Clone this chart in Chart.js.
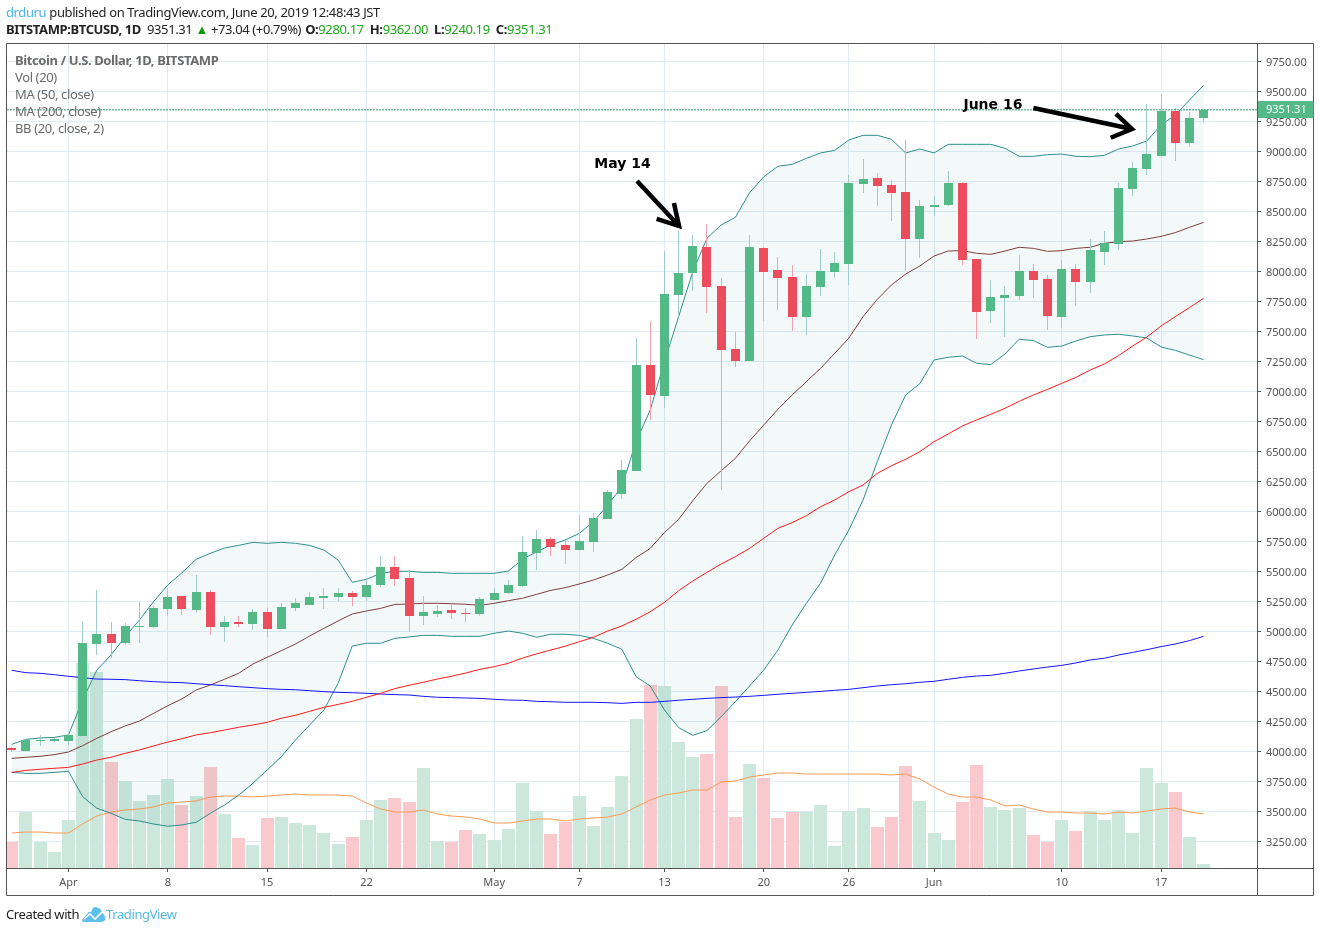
<!DOCTYPE html>
<html>
<head>
<meta charset="utf-8">
<title>BTCUSD</title>
<script src="https://cdn.jsdelivr.net/npm/chart.js@4"></script>
<style>
html, body { margin: 0; padding: 0; background: #fff; }
#wrap { position: relative; width: 1320px; height: 932px; overflow: hidden; font-family: "Noto Sans", sans-serif; }
#myChart { position: absolute; left: 0; top: 0; }
.txt { position: absolute; white-space: nowrap; font-size: 13px; line-height: 16px; letter-spacing: -0.38px; }
.up { color: #1fa51f; }
.hd { color: #222; }
.gap { margin-left: 3px; }
.pane { color: #6b6b6b; left: 15px; }
</style>
</head>
<body>
<div id="wrap">
	<canvas id="myChart" width="1320" height="932"></canvas>
	<div class="txt hd" style="left:6px;top:4px"><span style="color:#4db2e6">drduru</span> published on TradingView.com, June 20, 2019 12:48:43 JST</div>
	<div class="txt hd" style="left:6px;top:21px"><b>BITSTAMP:BTCUSD, 1D</b>&nbsp; 9351.31 <span style="color:#0a9a0a">&#9650;</span> +73.04 (+0.79%) <b class="gap" style="margin-left:1px">O:</b><span class="up">9280.17</span> <b class="gap">H:</b><span class="up">9362.00</span> <b class="gap">L:</b><span class="up">9240.19</span> <b class="gap">C:</b><span class="up">9351.31</span></div>
	<div class="txt pane" style="top:52px"><b>Bitcoin / U.S. Dollar, 1D, BITSTAMP</b></div>
	<div class="txt pane" style="top:69px">Vol (20)</div>
	<div class="txt pane" style="top:86px">MA (50, close)</div>
	<div class="txt pane" style="top:103px">MA (200, close)</div>
	<div class="txt pane" style="top:120px">BB (20, close, 2)</div>
	<div class="txt" style="left:6px;top:906px;color:#222">Created with</div>
	<svg style="position:absolute;left:82px;top:906px" width="24" height="16" viewBox="0 0 24 16">
		<path d="M0 14 L5 8 Q7 5 9 6 L11 2 Q13 0 16 2 Q20 3 20 7 Q24 9 23 14 Q22 16 19 16 L3 16 Q0 16 0 14 Z" fill="#5cc0ea"/>
		<path d="M2 13 L8 8 L13 13 L20 6" fill="none" stroke="#fff" stroke-width="1.6"/>
	</svg>
	<div class="txt" style="left:106px;top:906px;color:#55b9e6">TradingView</div>
</div>
<script>
// x is the number of days since Mar 28 2019, tick positions below
var xTicks = [4, 11, 18, 25, 34, 40, 46, 53, 59, 65, 74, 81];
var xTickLabels = ["Apr", "8", "15", "22", "May", "7", "13", "20", "26", "Jun", "10", "17"];
var priceTicks = [3250, 3500, 3750, 4000, 4250, 4500, 4750, 5000, 5250, 5500, 5750, 6000, 6250, 6500, 6750,
	7000, 7250, 7500, 7750, 8000, 8250, 8500, 8750, 9000, 9250, 9500, 9750];

var opens = [4033,4008,4092,4092,4092,4133,4900,4983,4908,5042,
	5042,5192,5300,5183,5333,5042,5083,5067,5167,5025,
	5200,5225,5283,5292,5325,5292,5392,5542,5450,5133,
	5150,5183,5158,5150,5267,5325,5383,5658,5775,5725,
	5683,5750,5942,6150,6342,7225,6967,7808,7992,8208,
	7883,7358,7258,8200,8017,7958,7625,7875,8000,8067,
	8733,8783,8725,8667,8275,8542,8558,8742,8108,7675,
	7783,7800,8008,7942,7625,8025,7917,8167,8233,8692,
	8858,8967,9342,9075,9280.17];
var highs = [4044,4108,4142,4117,4161,5092,5350,5083,5075,5250,
	5220,5358,5300,5475,5350,5133,5133,5192,5200,5242,
	5283,5333,5367,5367,5340,5450,5633,5633,5517,5300,
	5225,5233,5200,5292,5367,5433,5800,5850,5792,5767,
	5975,5992,6183,6433,7450,7592,8175,8342,8308,8400,
	7950,7500,8308,8208,8125,8058,7983,8192,8167,8808,
	8942,8825,8767,9100,8600,8633,8842,8750,8108,7933,
	7883,8142,8067,7975,8100,8067,8275,8342,8742,8914,
	9400,9483,9367,9333,9362];
var lows = [4000,4008,4050,4083,4058,4133,4808,4783,4892,4908,
	5033,5133,5142,5167,4975,4917,5042,5017,4958,5025,
	5175,5225,5192,5258,5217,5258,5375,5383,5000,5058,
	5125,5108,5083,5133,5267,5317,5375,5517,5633,5567,
	5683,5667,5942,6108,6342,6767,6867,7625,7842,7658,
	6183,7208,7258,7592,7683,7508,7475,7800,7950,7892,
	8658,8550,8425,8008,8117,8467,8550,8058,7442,7575,
	7458,7767,7783,7517,7533,7717,7825,8058,8183,8633,
	8808,8967,8925,9042,9240.19];
var closes = [4017,4100,4100,4108,4142,4908,4983,4908,5050,5050,
	5200,5292,5192,5333,5042,5083,5067,5167,5025,5208,
	5242,5292,5300,5325,5292,5392,5542,5442,5133,5167,
	5175,5158,5150,5275,5325,5392,5667,5775,5708,5683,
	5758,5950,6167,6350,7225,6975,7817,7992,8217,7875,
	7350,7258,8208,8000,7950,7625,7883,8008,8075,8742,
	8775,8717,8658,8275,8550,8558,8742,8100,7667,7792,
	7808,8008,7933,7633,8025,7917,8183,8242,8700,8867,
	8983,9342,9075,9283,9351.31];

var volumes = [2600,5600,2600,1600,4800,20500,19600,10600,8700,6700,
	7300,8900,6300,7200,10100,5400,3000,2300,5000,5100,
	4500,4300,3500,2400,3100,4800,6800,7000,6600,10000,
	2700,2600,3800,3400,2800,3900,8500,5700,3400,4600,
	7200,4200,6100,9200,14900,18300,18200,12600,11100,11400,
	18200,5100,10400,9000,5000,5600,5600,6300,2200,5700,
	6000,4100,5100,10200,6700,3500,2800,6600,10300,6100,
	5800,6000,3300,2600,4800,3700,5700,4800,5800,3500,
	10000,8500,7600,3100,400];
var volMA = [3500,3600,3600,3500,3500,4400,5200,5600,5800,5900,
	6100,6500,6600,6700,7100,7200,7200,7100,7200,7300,
	7400,7300,7300,7300,7200,6500,5900,5600,5600,5800,
	5400,5200,5100,4900,4500,4500,4700,4900,4900,4700,
	4900,5000,5100,5400,6100,6800,7300,7500,7800,7800,
	8600,8700,9100,9300,9500,9500,9400,9400,9400,9400,
	9400,9400,9300,9400,8900,8100,7400,7100,7100,6800,
	6200,6300,5900,5600,5600,5500,5500,5400,5600,5500,
	5700,5900,6000,5600,5400];

var bbUpper = [4064,4105,4117,4122,4142,4433,4683,4808,4961,5100,
	5253,5392,5494,5606,5656,5700,5722,5747,5739,5747,
	5739,5722,5683,5600,5414,5439,5489,5506,5506,5497,
	5497,5489,5489,5489,5489,5508,5606,5669,5725,5767,
	5822,5919,6058,6211,6586,6850,7253,7628,8003,8281,
	8392,8456,8661,8794,8881,8897,8947,8992,9014,9100,
	9139,9139,9106,8992,9025,8992,9064,9064,9064,9064,
	9031,8964,8964,8978,8983,8964,8961,8972,9025,9050,
	9092,9225,9308,9433,9556];
var bbLower = [3830,3822,3822,3830,3839,3628,3531,3489,3439,3425,
	3400,3381,3392,3414,3489,3558,3642,3739,3850,3961,
	4100,4225,4350,4572,4883,4906,4906,4947,4958,4972,
	4972,4964,4964,4964,4989,5008,4989,4956,4981,4981,
	4972,4947,4906,4856,4628,4550,4350,4203,4139,4178,
	4294,4419,4550,4683,4850,5058,5239,5406,5642,5850,
	6100,6419,6725,6975,7070,7267,7289,7300,7239,7228,
	7317,7440,7428,7372,7383,7425,7461,7475,7481,7467,
	7450,7375,7347,7308,7269];
var bbBasis = [3947,3956,3964,3978,4000,4053,4114,4169,4217,4258,
	4322,4386,4442,4517,4558,4606,4656,4733,4789,4844,
	4900,4967,5030,5092,5150,5175,5197,5230,5233,5239,
	5239,5236,5231,5222,5239,5261,5281,5314,5347,5369,
	5400,5433,5475,5522,5620,5697,5828,5939,6094,6239,
	6344,6447,6592,6725,6856,6975,7086,7197,7322,7450,
	7628,7772,7892,7983,8050,8133,8175,8178,8156,8147,
	8175,8206,8197,8172,8178,8197,8206,8239,8253,8258,
	8275,8297,8328,8372,8414];
var ma50 = [3830,3847,3856,3864,3872,3900,3933,3956,3989,4017,
	4050,4083,4111,4142,4161,4183,4206,4225,4247,4281,
	4306,4339,4372,4397,4422,4456,4489,4528,4556,4581,
	4608,4631,4658,4689,4711,4739,4783,4818,4850,4881,
	4919,4956,5008,5050,5106,5169,5247,5344,5425,5497,
	5567,5628,5697,5781,5864,5911,5969,6044,6100,6169,
	6225,6322,6386,6439,6503,6586,6650,6717,6767,6814,
	6864,6922,6975,7022,7072,7122,7183,7233,7303,7383,
	7458,7550,7628,7703,7781];
var ma200 = [4681,4661,4656,4644,4631,4619,4608,4606,4603,4594,
	4586,4581,4578,4569,4561,4553,4544,4536,4528,4522,
	4519,4511,4503,4497,4494,4489,4483,4478,4475,4464,
	4456,4453,4450,4447,4439,4433,4431,4422,4419,4414,
	4414,4414,4411,4405,4414,4414,4422,4431,4439,4447,
	4453,4458,4464,4472,4481,4489,4497,4505,4514,4522,
	4536,4550,4561,4569,4581,4589,4606,4622,4633,4639,
	4656,4675,4692,4708,4722,4742,4767,4781,4808,4830,
	4853,4878,4900,4928,4964];

var lastPrice = 9351.31;
var xRange = [-0.33, 87.76];
var priceRange = [3033.33, 9908.33];
var volRange = [0, 82500];

// hand drawn arrows and their notes, in days / price
var arrowMayX = [44.07, 47.03, null, 45.45, 47.03, 46.67];
var arrowMayY = [8758, 8383, null, 8442, 8383, 8575];
var arrowJuneX = [72.0, 78.95, null, 77.45, 78.95, 77.82];
var arrowJuneY = [9367, 9192, null, 9119, 9192, 9317];
var noteLabels = ["May 14", "June 16"];
var noteX = [43.04, 69.15];
var notePrice = [8900, 9388];

var GREEN = "#53b987", RED = "#eb4d5c";
var idx = closes.map(function(c, i) { return i; });
function isUp(i) { return closes[i] >= opens[i]; }
function xy(arr) { return arr.map(function(v, i) { return {x: i, y: v}; }); }
function pairs(xs, ys) { return xs.map(function(v, i) { return {x: v === null ? xs[i - 1] : v, y: ys[i]}; }); }

function lineSet(data, color, order, width) {
	return {type: "line", data: data, borderColor: color, borderWidth: width || 1, pointRadius: 0,
		tension: 0, fill: false, order: order, yAxisID: "y"};
}

var upperSet = lineSet(xy(bbUpper), "#2f8f8f", 5);
upperSet.fill = {target: 1};
upperSet.backgroundColor = "rgba(47,143,143,0.06)";

var datasets = [
	upperSet,
	lineSet(xy(bbLower), "#2f8f8f", 5),
	lineSet(xy(bbBasis), "#853a3a", 5),
	lineSet(xy(ma50), "#ff1a1a", 4),
	lineSet(xy(ma200), "#1414ff", 4),
	{type: "line", data: xy(volMA), yAxisID: "yVol", borderColor: "#ff9a52", borderWidth: 1, pointRadius: 0, tension: 0, order: 7},
	{type: "bar", data: xy(volumes), yAxisID: "yVol", barThickness: 13, grouped: false, inflateAmount: 0, order: 8,
		backgroundColor: idx.map(function(i) { return isUp(i) ? "#cce8dc" : "#f9c9ce"; })},
	// wicks and bodies are floating bars
	{type: "bar", data: idx.map(function(i) { return {x: i, y: [lows[i], highs[i]]}; }), yAxisID: "y", barThickness: 1,
		grouped: false, inflateAmount: 0, order: 3,
		backgroundColor: idx.map(function(i) { return isUp(i) ? "#9fcbcb" : "#f4a3ae"; })},
	{type: "bar", data: idx.map(function(i) { return {x: i, y: [opens[i], closes[i]]}; }), yAxisID: "y", barThickness: 9,
		grouped: false, inflateAmount: 0, order: 2,
		backgroundColor: idx.map(function(i) { return isUp(i) ? GREEN : RED; })},
	{type: "line", data: [{x: xRange[0], y: lastPrice}, {x: xRange[1], y: lastPrice}], yAxisID: "y", borderColor: "#2e9a68",
		borderWidth: 1, borderDash: [2, 1], pointRadius: 0, order: 1},
	{type: "line", data: pairs(arrowMayX, arrowMayY), yAxisID: "y", borderColor: "#000",
		borderWidth: 4.5, borderJoinStyle: "miter", pointRadius: 0, spanGaps: false, order: 0},
	{type: "line", data: pairs(arrowJuneX, arrowJuneY), yAxisID: "y", borderColor: "#000",
		borderWidth: 4.5, borderJoinStyle: "miter", pointRadius: 0, spanGaps: false, order: 0}
];

// snap the bars to whole pixels, the source chart does that too
var snapBars = {
	id: "snapBars",
	afterDatasetsUpdate: function(chart) {
		chart.getSortedVisibleDatasetMetas().forEach(function(meta) {
			if (meta.type !== "bar") return;
			meta.data.forEach(function(el) {
				el.x = Math.floor(el.x) + 0.5;
				el.y = Math.round(el.y);
				el.base = Math.round(el.base);
				if (el.y === el.base) el.y = el.base - 1;
			});
		});
	}
};

var extras = {
	id: "extras",
	beforeDraw: function(chart) {
		// price labels sit one pixel lower than this font puts them
		chart.scales.y.getLabelItems(chart.chartArea).forEach(function(item) {
			item.options.translation[1] = chart.scales.y.getPixelForValue(item.label * 1) + 1;
		});
	},
	afterDraw: function(chart) {
		var c = chart.ctx, a = chart.chartArea, sx = chart.scales.x, sy = chart.scales.y;
		// notes
		c.save();
		c.fillStyle = "#000";
		c.font = "bold 14px 'DejaVu Sans'";
		c.textAlign = "center";
		c.textBaseline = "middle";
		noteLabels.forEach(function(t, i) {
			c.fillText(t, sx.getPixelForValue(noteX[i]), sy.getPixelForValue(notePrice[i]));
		});
		// pane frame
		c.strokeStyle = "#555";
		c.lineWidth = 1;
		c.beginPath();
		c.moveTo(a.left - 0.5, a.bottom + 0.5);
		c.lineTo(sy.right + 0.5, a.bottom + 0.5);
		c.moveTo(a.right + 0.5, a.top);
		c.lineTo(a.right + 0.5, sx.bottom + 0.5);
		c.rect(a.left - 0.5, a.top + 0.5, sy.right - a.left + 1, sx.bottom - a.top);
		c.stroke();
		// last price tag
		var py = Math.round(sy.getPixelForValue(lastPrice));
		c.fillStyle = GREEN;
		c.fillRect(a.right + 1, py - 9, sy.right - a.right - 0.5, 17);
		c.fillStyle = "#fff";
		c.font = "11px 'Noto Sans'";
		c.textAlign = "left";
		c.fillText(lastPrice.toFixed(2), a.right + 9, py);
		c.restore();
	}
};

var chart = new Chart(document.getElementById("myChart").getContext("2d"), {
	type: "bar",
	data: {datasets: datasets},
	plugins: [snapBars, extras],
	options: {
		responsive: false,
		animation: false,
		events: [],
		layout: {padding: {left: 7, top: 43, right: 7, bottom: 37}},
		plugins: {legend: {display: false}, tooltip: {enabled: false}},
		scales: {
			x: {
				type: "linear", offset: false, min: xRange[0], max: xRange[1],
				grid: {color: "#e1ecf2", tickColor: "#555", tickLength: 4, offset: false},
				border: {display: false},
				afterBuildTicks: function(s) { s.ticks = xTicks.map(function(v) { return {value: v}; }); },
				afterFit: function(s) { s.height = 27; },
				ticks: {
					autoSkip: false, maxRotation: 0, padding: 4, color: "#555", font: {family: "Noto Sans", size: 11},
					callback: function(v) { return xTickLabels[xTicks.indexOf(v)]; }
				}
			},
			y: {
				type: "linear", position: "right", min: priceRange[0], max: priceRange[1],
				grid: {color: "#e1ecf2", tickColor: "#555", tickLength: 4},
				border: {display: false},
				afterBuildTicks: function(s) { s.ticks = priceTicks.map(function(v) { return {value: v}; }); },
				afterFit: function(s) { s.width = 56; },
				ticks: {
					padding: 5, color: "#555", font: {family: "Noto Sans", size: 11},
					callback: function(v) { return v.toFixed(2); }
				}
			},
			yVol: {type: "linear", display: false, min: volRange[0], max: volRange[1]}
		}
	}
});
</script>
</body>
</html>
